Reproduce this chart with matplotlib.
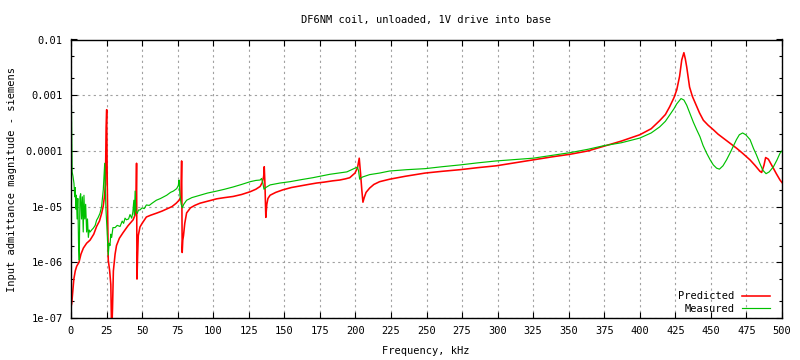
import matplotlib
matplotlib.use("Agg")
import matplotlib.pyplot as plt
from matplotlib.ticker import FixedLocator, FixedFormatter, NullFormatter

# values (frequency in kHz, admittance in siemens)
pred_freq = [0, 0.5, 1, 2, 3, 4, 5.6, 7, 8.7, 11, 13.4, 16, 18, 20, 21.5, 22.6, 23.5,
             24.2, 24.7, 25.1, 25.5, 26.2, 27.2, 28.0, 28.6, 29.2, 29.8, 31, 32, 34,
             36.6, 40, 43.7, 45, 45.7, 46.1, 46.4, 46.8, 47.3, 48.5, 50, 53, 56, 60, 64,
             67, 71, 74, 76, 77.3, 77.8, 78.2, 78.6, 79.1, 80, 81.3, 84, 87, 90.7, 96,
             102.5, 108, 114, 120, 126, 130, 133, 134.5, 135.5, 135.9, 136.4, 137,
             137.7, 138.5, 140, 144, 149, 155, 161, 167, 172.8, 178, 184, 189, 193, 196,
             199.7, 201.5, 202.7, 203.6, 204.5, 205.3, 206.2, 207.5, 210, 213, 217, 224,
             235, 249, 261, 273.6, 286, 299, 312, 325, 338, 351, 363.6, 374, 387, 400,
             408, 414, 418, 421, 424, 426, 428, 429.5, 431, 432, 433, 435, 437, 439, 442,
             444.7, 448, 451.7, 455, 458.7, 463, 468, 472, 477.5, 481, 484.5, 485.7,
             487.3, 488.5, 490.4, 492, 493.9, 496, 498.6, 500]
pred_val = [1.6e-7, 1.8e-7, 2.5e-7, 5e-7, 7e-7, 8.5e-7, 1.0e-6, 1.4e-6, 1.8e-6, 2.2e-6,
            2.5e-6, 3.2e-6, 4.4e-6, 5.5e-6, 7.5e-6, 1.0e-5, 1.5e-5, 2.5e-5, 2.7e-4,
            5.5e-4, 2.5e-5, 1.1e-6, 7e-7, 4e-7, 5e-8, 1.5e-7, 7e-7, 1.4e-6, 2.0e-6,
            2.7e-6, 3.4e-6, 4.5e-6, 5.8e-6, 7e-6, 1.0e-5, 6e-5, 5e-7, 1.2e-6, 3e-6,
            4.3e-6, 5e-6, 6.5e-6, 7e-6, 7.6e-6, 8.3e-6, 9e-6, 1.0e-5, 1.15e-5, 1.3e-5,
            1.5e-5, 6.6e-5, 1.5e-6, 2.5e-6, 3e-6, 5e-6, 7.7e-6, 9.5e-6, 1.05e-5,
            1.15e-5, 1.25e-5, 1.38e-5, 1.45e-5, 1.52e-5, 1.65e-5, 1.85e-5, 2.05e-5,
            2.3e-5, 2.7e-5, 3.5e-5, 5.2e-5, 2.5e-5, 6.4e-6, 1.1e-5, 1.4e-5, 1.6e-5,
            1.8e-5, 2.0e-5, 2.2e-5, 2.35e-5, 2.5e-5, 2.65e-5, 2.75e-5, 2.9e-5, 3.0e-5,
            3.15e-5, 3.3e-5, 4.0e-5, 5e-5, 7.4e-5, 4e-5, 2e-5, 1.2e-5, 1.45e-5, 1.8e-5,
            2.15e-5, 2.5e-5, 2.8e-5, 3.1e-5, 3.5e-5, 4.0e-5, 4.3e-5, 4.6e-5, 5.0e-5,
            5.4e-5, 6.1e-5, 6.9e-5, 7.8e-5, 8.7e-5, 1.0e-4, 1.2e-4, 1.5e-4, 1.95e-4,
            2.5e-4, 3.5e-4, 4.5e-4, 6.2e-4, 9e-4, 1.25e-3, 2.2e-3, 4.3e-3, 5.8e-3,
            4.5e-3, 3.2e-3, 1.4e-3, 9.5e-4, 7.2e-4, 4.8e-4, 3.55e-4, 2.9e-4, 2.4e-4,
            2.0e-4, 1.7e-4, 1.4e-4, 1.12e-4, 9.2e-5, 6.9e-5, 5.5e-5, 4.3e-5, 4.1e-5,
            5.5e-5, 7.6e-5, 7.1e-5, 6e-5, 4.9e-5, 3.9e-5, 3.0e-5, 2.7e-5]

meas_freq = [0.3, 0.8, 1.4, 2.1, 2.6, 3.0, 3.4, 3.8, 4.3, 4.8, 5.3, 5.8, 6.3, 6.8, 7.4, 8.0,
             8.6, 9.1, 9.7, 10.3, 11.0, 11.6, 12.2, 12.8, 13.4, 14.5, 15.7, 17, 18, 19,
             20.4, 21.5, 22.7, 23.2, 23.7, 24.1, 24.6, 25.3, 26.2, 26.8, 27.4, 28.0,
             28.6, 29.5, 31, 32.5, 34.5, 36, 37, 38, 39, 40.5, 41.5, 42.7, 43.5, 44.2,
             44.6, 45.1, 45.6, 46.5, 47.5, 48.5, 50, 51.5, 53, 55, 57, 60, 63, 67.3, 70,
             72, 74.3, 75.5, 76, 76.6, 77.5, 78.3, 79.3, 81.3, 85, 90.7, 96, 102.5, 108,
             114, 120, 126, 130, 133, 134, 135, 135.7, 137, 140, 147, 154, 162, 170, 182,
             194, 199.7, 201.4, 202.2, 203, 205, 210, 217, 224, 236, 249, 261, 273.6,
             286, 299, 312, 325, 338, 351, 363.6, 374, 387, 400, 408, 414, 418, 421, 424,
             426, 429, 431, 433, 435.5, 437.6, 440, 442.3, 444.5, 447, 449.5, 451.7, 454,
             456, 458.5, 461, 463.5, 465.7, 468, 470, 472.3, 474.5, 477.5, 480, 482,
             484.5, 486.5, 488.8, 491, 494, 496.5, 498.6, 500]
meas_val = [6.5e-4, 4.2e-5, 3.5e-5, 2.6e-5, 1.5e-5, 2.2e-5, 9e-6, 1.6e-5, 6e-6, 1.4e-5,
            2.2e-6, 1.1e-6, 1.5e-5, 1.7e-5, 6e-6, 1.5e-5, 3.5e-6, 1.6e-5, 6e-6, 1.1e-5,
            3.5e-6, 6e-6, 2.8e-6, 3.8e-6, 3.5e-6, 3.8e-6, 4.1e-6, 4.6e-6, 5.7e-6,
            6.3e-6, 7.6e-6, 1.0e-5, 2.0e-5, 3.5e-5, 6.0e-5, 2.2e-5, 8.7e-6, 4e-6,
            1.35e-6, 2.2e-6, 2.0e-6, 3.2e-6, 2.8e-6, 4.2e-6, 4.2e-6, 4.6e-6, 4.4e-6,
            5.5e-6, 5e-6, 6.2e-6, 5.8e-6, 6.0e-6, 7.2e-6, 6.2e-6, 8e-6, 1.3e-5, 7e-6,
            1.9e-5, 8.5e-6, 7.5e-6, 8.7e-6, 8.7e-6, 9.5e-6, 9.2e-6, 1.07e-5, 1.05e-5,
            1.15e-5, 1.3e-5, 1.4e-5, 1.6e-5, 1.8e-5, 1.9e-5, 2.1e-5, 2.4e-5, 3.0e-5,
            1.6e-5, 1.1e-5, 9.5e-6, 1.1e-5, 1.3e-5, 1.45e-5, 1.6e-5, 1.75e-5, 1.9e-5,
            2.05e-5, 2.25e-5, 2.5e-5, 2.8e-5, 2.95e-5, 3.0e-5, 3.2e-5, 2.6e-5, 2.05e-5,
            2.2e-5, 2.45e-5, 2.65e-5, 2.8e-5, 3.05e-5, 3.3e-5, 3.8e-5, 4.2e-5, 4.9e-5,
            5.1e-5, 4.4e-5, 3.1e-5, 3.4e-5, 3.75e-5, 4.0e-5, 4.35e-5, 4.6e-5, 4.8e-5,
            5.2e-5, 5.6e-5, 6.1e-5, 6.6e-5, 7.0e-5, 7.4e-5, 8.3e-5, 9.3e-5, 1.07e-4,
            1.23e-4, 1.4e-4, 1.7e-4, 2.1e-4, 2.7e-4, 3.4e-4, 4.4e-4, 5.7e-4, 7.0e-4,
            8.7e-4, 8.2e-4, 6.6e-4, 4.5e-4, 3.3e-4, 2.4e-4, 1.8e-4, 1.25e-4, 9.1e-5,
            6.9e-5, 5.6e-5, 4.9e-5, 4.7e-5, 5.4e-5, 6.9e-5, 9.2e-5, 1.2e-4, 1.6e-4,
            1.95e-4, 2.1e-4, 1.95e-4, 1.6e-4, 1.1e-4, 8.5e-5, 5.9e-5, 4.5e-5, 3.9e-5,
            4.2e-5, 5.2e-5, 6.9e-5, 9.1e-5, 1.0e-4]

x_ticks = list(range(0, 501, 25))
y_ticks = [1e-7, 1e-6, 1e-5, 1e-4, 1e-3, 1e-2]
y_tick_labels = ["1e-07", "1e-06", "1e-05", "0.0001", "0.001", "0.01"]

title = "DF6NM coil, unloaded, 1V drive into base"
x_label = "Frequency, kHz"
y_label = "Input admittance magnitude - siemens"

plt.rcParams["font.family"] = ["DejaVu Sans Mono"]
plt.rcParams["font.size"] = 7.5

fig = plt.figure(figsize=(8, 3.6), dpi=100)
ax = fig.add_axes([71 / 800, 1 - 318 / 360, 711 / 800, 278.5 / 360])

ax.plot(pred_freq, pred_val, color="#ff0000", lw=1.15, label="Predicted")
ax.plot(meas_freq, meas_val, color="#00c000", lw=0.85, label="Measured")

ax.set_yscale("log")
ax.set_xlim(0, 500)
ax.set_ylim(1e-7, 1e-2)

ax.xaxis.set_major_locator(FixedLocator(x_ticks))
ax.set_xticklabels([str(t) for t in x_ticks])
ax.yaxis.set_major_locator(FixedLocator(y_ticks))
ax.yaxis.set_major_formatter(FixedFormatter(y_tick_labels))
minor = [m * 10.0 ** e for e in range(-7, -2) for m in (2, 5)]
ax.yaxis.set_minor_locator(FixedLocator(minor))
ax.yaxis.set_minor_formatter(NullFormatter())

ax.tick_params(which="both", direction="in", top=True, right=True, colors="black")
ax.tick_params(which="major", length=4, width=0.8, pad=6)
ax.tick_params(which="minor", length=2, width=0.8)
ax.grid(True, which="major", color="#a0a0a0", linestyle=(0, (2, 3)), linewidth=0.8)
for s in ax.spines.values():
    s.set_linewidth(1.0)

fig.text(426 / 800, 1 - 20 / 360, title, ha="center", va="center")
fig.text(426 / 800, 1 - 351 / 360, x_label, ha="center", va="center")
fig.text(12 / 800, 1 - 179 / 360, y_label, ha="center", va="center", rotation=90)

ax.legend(loc="lower right", bbox_to_anchor=(0.983, 0.014), frameon=False,
          markerfirst=False, handlelength=2.7, handletextpad=0.7,
          labelspacing=0.25, borderpad=0, borderaxespad=0)

fig.savefig("out.png", dpi=100)
